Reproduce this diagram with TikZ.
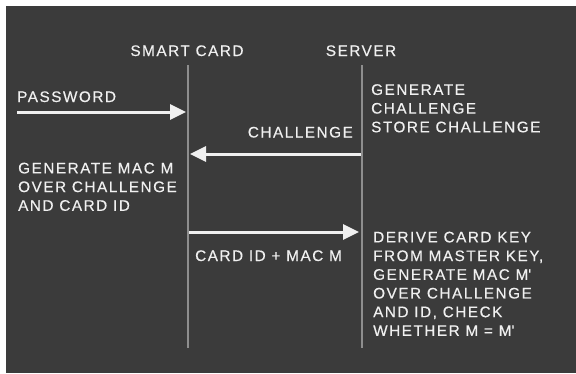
\documentclass[tikz,border=0pt]{standalone}
\usepackage{fontspec}
\setmainfont{Liberation Sans}[LetterSpace=10, FakeBold=0.4]
\usetikzlibrary{arrows.meta, positioning}
\definecolor{bgdark}{HTML}{3B3B3B}
\definecolor{lifegray}{HTML}{8E8E8E}
\definecolor{inkwhite}{HTML}{F0F0F0}
\newcommand{\prm}{\textquotesingle}

\begin{document}
\begin{tikzpicture}[x=1pt, y=-1pt,
  lbl/.style={text=inkwhite, font=\fontsize{15.3}{18.7}\selectfont, inner sep=0pt, align=left},
  life/.style={draw=lifegray, line width=1.8pt},
  msg/.style={draw=inkwhite, line width=3pt, -{Triangle[length=16pt, width=15pt]}}]
\useasboundingbox (0,0) rectangle (576,373);
\fill[white] (0,0) rectangle (576,373);
\fill[bgdark] (6,6) rectangle (576,373);
% lifelines
\coordinate (cardtop) at (188,65);
\coordinate (cardbot) at (188,348);
\coordinate (servtop) at (362,65);
\coordinate (servbot) at (362,348);
\draw[life] (cardtop) -- (cardbot);
\draw[life] (servtop) -- (servbot);
\node[lbl, anchor=base] (cardlbl) at (187,56) {SMART CARD};
\node[lbl, anchor=base] (servlbl) at (361,56) {SERVER};
% password into the card
\coordinate (pwstart) at (17,112);
\coordinate (pwend) at (186,112);
\draw[msg] (pwstart) -- (pwend);
\node[lbl, anchor=base west] (pw) at (17,102) {PASSWORD};
% server makes the challenge
\node[lbl, anchor=north west] (gench) at (371,84) {GENERATE\\CHALLENGE\\STORE CHALLENGE};
\coordinate (chstart) at (361,154);
\coordinate (chend) at (190,154);
\draw[msg] (chstart) -- (chend);
\node[lbl, anchor=base east] (chlbl) at (353,137.5) {CHALLENGE};
% card answers
\node[lbl, anchor=north west] (genmac) at (18,162.5) {GENERATE MAC M\\OVER CHALLENGE\\AND CARD ID};
\coordinate (idstart) at (189,232);
\coordinate (idend) at (359,232);
\draw[msg] (idstart) -- (idend);
\node[lbl, anchor=base west] (idlbl) at (195,261) {CARD ID + MAC M};
% server checks
\node[lbl, anchor=north west] (check) at (373,231.5)
  {DERIVE CARD KEY\\FROM MASTER KEY,\\GENERATE MAC M\prm\\OVER CHALLENGE\\AND ID, CHECK\\WHETHER M = M\prm};
\end{tikzpicture}
\end{document}
